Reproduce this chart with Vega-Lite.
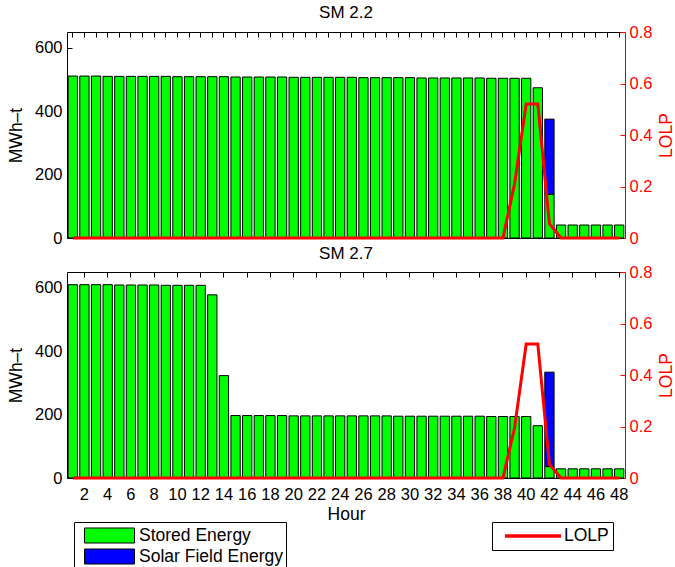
{
"$schema": "https://vega.github.io/schema/vega-lite/v6.json",
"padding": {"left": 7, "top": 4, "right": 0, "bottom": 0},
"config": {
  "font": "Liberation Sans",
  "view": {"stroke": null},
  "axis": {"grid": false, "labelFontSize": 16.5, "titleFontSize": 17.5, "titleFontWeight": "normal", "labelColor": "black", "titleColor": "black", "domainColor": "black", "tickColor": "black", "labelFont": "Liberation Sans", "titleFont": "Liberation Sans", "domainWidth": 1},
  "title": {"fontSize": 17, "fontWeight": "normal", "font": "Liberation Sans", "frame": "group", "anchor": "middle"},
  "concat": {"spacing": -2}
},
"resolve": {"scale": {"color": "independent", "stroke": "independent"}, "legend": {"color": "independent", "stroke": "independent"}},
"datasets": {
"energy": [
{"panel":"SM 2.2","hour":1,"series":"Stored Energy","value":511},
{"panel":"SM 2.2","hour":2,"series":"Stored Energy","value":511},
{"panel":"SM 2.2","hour":3,"series":"Stored Energy","value":511},
{"panel":"SM 2.2","hour":4,"series":"Stored Energy","value":510},
{"panel":"SM 2.2","hour":5,"series":"Stored Energy","value":510},
{"panel":"SM 2.2","hour":6,"series":"Stored Energy","value":510},
{"panel":"SM 2.2","hour":7,"series":"Stored Energy","value":510},
{"panel":"SM 2.2","hour":8,"series":"Stored Energy","value":510},
{"panel":"SM 2.2","hour":9,"series":"Stored Energy","value":510},
{"panel":"SM 2.2","hour":10,"series":"Stored Energy","value":509},
{"panel":"SM 2.2","hour":11,"series":"Stored Energy","value":509},
{"panel":"SM 2.2","hour":12,"series":"Stored Energy","value":509},
{"panel":"SM 2.2","hour":13,"series":"Stored Energy","value":509},
{"panel":"SM 2.2","hour":14,"series":"Stored Energy","value":509},
{"panel":"SM 2.2","hour":15,"series":"Stored Energy","value":508},
{"panel":"SM 2.2","hour":16,"series":"Stored Energy","value":508},
{"panel":"SM 2.2","hour":17,"series":"Stored Energy","value":508},
{"panel":"SM 2.2","hour":18,"series":"Stored Energy","value":508},
{"panel":"SM 2.2","hour":19,"series":"Stored Energy","value":508},
{"panel":"SM 2.2","hour":20,"series":"Stored Energy","value":507},
{"panel":"SM 2.2","hour":21,"series":"Stored Energy","value":507},
{"panel":"SM 2.2","hour":22,"series":"Stored Energy","value":507},
{"panel":"SM 2.2","hour":23,"series":"Stored Energy","value":507},
{"panel":"SM 2.2","hour":24,"series":"Stored Energy","value":507},
{"panel":"SM 2.2","hour":25,"series":"Stored Energy","value":507},
{"panel":"SM 2.2","hour":26,"series":"Stored Energy","value":506},
{"panel":"SM 2.2","hour":27,"series":"Stored Energy","value":506},
{"panel":"SM 2.2","hour":28,"series":"Stored Energy","value":506},
{"panel":"SM 2.2","hour":29,"series":"Stored Energy","value":506},
{"panel":"SM 2.2","hour":30,"series":"Stored Energy","value":506},
{"panel":"SM 2.2","hour":31,"series":"Stored Energy","value":505},
{"panel":"SM 2.2","hour":32,"series":"Stored Energy","value":505},
{"panel":"SM 2.2","hour":33,"series":"Stored Energy","value":505},
{"panel":"SM 2.2","hour":34,"series":"Stored Energy","value":505},
{"panel":"SM 2.2","hour":35,"series":"Stored Energy","value":505},
{"panel":"SM 2.2","hour":36,"series":"Stored Energy","value":505},
{"panel":"SM 2.2","hour":37,"series":"Stored Energy","value":504},
{"panel":"SM 2.2","hour":38,"series":"Stored Energy","value":504},
{"panel":"SM 2.2","hour":39,"series":"Stored Energy","value":504},
{"panel":"SM 2.2","hour":40,"series":"Stored Energy","value":504},
{"panel":"SM 2.2","hour":41,"series":"Stored Energy","value":474},
{"panel":"SM 2.2","hour":42,"series":"Stored Energy","value":138},
{"panel":"SM 2.2","hour":42,"series":"Solar Field Energy","value":237},
{"panel":"SM 2.2","hour":43,"series":"Stored Energy","value":41},
{"panel":"SM 2.2","hour":44,"series":"Stored Energy","value":41},
{"panel":"SM 2.2","hour":45,"series":"Stored Energy","value":41},
{"panel":"SM 2.2","hour":46,"series":"Stored Energy","value":41},
{"panel":"SM 2.2","hour":47,"series":"Stored Energy","value":41},
{"panel":"SM 2.2","hour":48,"series":"Stored Energy","value":41},
{"panel":"SM 2.7","hour":1,"series":"Stored Energy","value":610},
{"panel":"SM 2.7","hour":2,"series":"Stored Energy","value":610},
{"panel":"SM 2.7","hour":3,"series":"Stored Energy","value":610},
{"panel":"SM 2.7","hour":4,"series":"Stored Energy","value":610},
{"panel":"SM 2.7","hour":5,"series":"Stored Energy","value":609},
{"panel":"SM 2.7","hour":6,"series":"Stored Energy","value":609},
{"panel":"SM 2.7","hour":7,"series":"Stored Energy","value":609},
{"panel":"SM 2.7","hour":8,"series":"Stored Energy","value":609},
{"panel":"SM 2.7","hour":9,"series":"Stored Energy","value":608},
{"panel":"SM 2.7","hour":10,"series":"Stored Energy","value":608},
{"panel":"SM 2.7","hour":11,"series":"Stored Energy","value":608},
{"panel":"SM 2.7","hour":12,"series":"Stored Energy","value":608},
{"panel":"SM 2.7","hour":13,"series":"Stored Energy","value":578},
{"panel":"SM 2.7","hour":14,"series":"Stored Energy","value":323},
{"panel":"SM 2.7","hour":15,"series":"Stored Energy","value":197},
{"panel":"SM 2.7","hour":16,"series":"Stored Energy","value":197},
{"panel":"SM 2.7","hour":17,"series":"Stored Energy","value":197},
{"panel":"SM 2.7","hour":18,"series":"Stored Energy","value":197},
{"panel":"SM 2.7","hour":19,"series":"Stored Energy","value":197},
{"panel":"SM 2.7","hour":20,"series":"Stored Energy","value":196},
{"panel":"SM 2.7","hour":21,"series":"Stored Energy","value":196},
{"panel":"SM 2.7","hour":22,"series":"Stored Energy","value":196},
{"panel":"SM 2.7","hour":23,"series":"Stored Energy","value":196},
{"panel":"SM 2.7","hour":24,"series":"Stored Energy","value":196},
{"panel":"SM 2.7","hour":25,"series":"Stored Energy","value":196},
{"panel":"SM 2.7","hour":26,"series":"Stored Energy","value":196},
{"panel":"SM 2.7","hour":27,"series":"Stored Energy","value":196},
{"panel":"SM 2.7","hour":28,"series":"Stored Energy","value":196},
{"panel":"SM 2.7","hour":29,"series":"Stored Energy","value":195},
{"panel":"SM 2.7","hour":30,"series":"Stored Energy","value":195},
{"panel":"SM 2.7","hour":31,"series":"Stored Energy","value":195},
{"panel":"SM 2.7","hour":32,"series":"Stored Energy","value":195},
{"panel":"SM 2.7","hour":33,"series":"Stored Energy","value":195},
{"panel":"SM 2.7","hour":34,"series":"Stored Energy","value":195},
{"panel":"SM 2.7","hour":35,"series":"Stored Energy","value":195},
{"panel":"SM 2.7","hour":36,"series":"Stored Energy","value":195},
{"panel":"SM 2.7","hour":37,"series":"Stored Energy","value":194},
{"panel":"SM 2.7","hour":38,"series":"Stored Energy","value":194},
{"panel":"SM 2.7","hour":39,"series":"Stored Energy","value":194},
{"panel":"SM 2.7","hour":40,"series":"Stored Energy","value":194},
{"panel":"SM 2.7","hour":41,"series":"Stored Energy","value":165},
{"panel":"SM 2.7","hour":42,"series":"Stored Energy","value":36},
{"panel":"SM 2.7","hour":42,"series":"Solar Field Energy","value":298},
{"panel":"SM 2.7","hour":43,"series":"Stored Energy","value":29},
{"panel":"SM 2.7","hour":44,"series":"Stored Energy","value":29},
{"panel":"SM 2.7","hour":45,"series":"Stored Energy","value":29},
{"panel":"SM 2.7","hour":46,"series":"Stored Energy","value":29},
{"panel":"SM 2.7","hour":47,"series":"Stored Energy","value":29},
{"panel":"SM 2.7","hour":48,"series":"Stored Energy","value":29}
],
"lolp": [
{"panel":"SM 2.2","hour":1,"series":"LOLP","lolp":0},
{"panel":"SM 2.2","hour":2,"series":"LOLP","lolp":0},
{"panel":"SM 2.2","hour":3,"series":"LOLP","lolp":0},
{"panel":"SM 2.2","hour":4,"series":"LOLP","lolp":0},
{"panel":"SM 2.2","hour":5,"series":"LOLP","lolp":0},
{"panel":"SM 2.2","hour":6,"series":"LOLP","lolp":0},
{"panel":"SM 2.2","hour":7,"series":"LOLP","lolp":0},
{"panel":"SM 2.2","hour":8,"series":"LOLP","lolp":0},
{"panel":"SM 2.2","hour":9,"series":"LOLP","lolp":0},
{"panel":"SM 2.2","hour":10,"series":"LOLP","lolp":0},
{"panel":"SM 2.2","hour":11,"series":"LOLP","lolp":0},
{"panel":"SM 2.2","hour":12,"series":"LOLP","lolp":0},
{"panel":"SM 2.2","hour":13,"series":"LOLP","lolp":0},
{"panel":"SM 2.2","hour":14,"series":"LOLP","lolp":0},
{"panel":"SM 2.2","hour":15,"series":"LOLP","lolp":0},
{"panel":"SM 2.2","hour":16,"series":"LOLP","lolp":0},
{"panel":"SM 2.2","hour":17,"series":"LOLP","lolp":0},
{"panel":"SM 2.2","hour":18,"series":"LOLP","lolp":0},
{"panel":"SM 2.2","hour":19,"series":"LOLP","lolp":0},
{"panel":"SM 2.2","hour":20,"series":"LOLP","lolp":0},
{"panel":"SM 2.2","hour":21,"series":"LOLP","lolp":0},
{"panel":"SM 2.2","hour":22,"series":"LOLP","lolp":0},
{"panel":"SM 2.2","hour":23,"series":"LOLP","lolp":0},
{"panel":"SM 2.2","hour":24,"series":"LOLP","lolp":0},
{"panel":"SM 2.2","hour":25,"series":"LOLP","lolp":0},
{"panel":"SM 2.2","hour":26,"series":"LOLP","lolp":0},
{"panel":"SM 2.2","hour":27,"series":"LOLP","lolp":0},
{"panel":"SM 2.2","hour":28,"series":"LOLP","lolp":0},
{"panel":"SM 2.2","hour":29,"series":"LOLP","lolp":0},
{"panel":"SM 2.2","hour":30,"series":"LOLP","lolp":0},
{"panel":"SM 2.2","hour":31,"series":"LOLP","lolp":0},
{"panel":"SM 2.2","hour":32,"series":"LOLP","lolp":0},
{"panel":"SM 2.2","hour":33,"series":"LOLP","lolp":0},
{"panel":"SM 2.2","hour":34,"series":"LOLP","lolp":0},
{"panel":"SM 2.2","hour":35,"series":"LOLP","lolp":0},
{"panel":"SM 2.2","hour":36,"series":"LOLP","lolp":0},
{"panel":"SM 2.2","hour":37,"series":"LOLP","lolp":0},
{"panel":"SM 2.2","hour":38,"series":"LOLP","lolp":0},
{"panel":"SM 2.2","hour":39,"series":"LOLP","lolp":0.21},
{"panel":"SM 2.2","hour":40,"series":"LOLP","lolp":0.52},
{"panel":"SM 2.2","hour":41,"series":"LOLP","lolp":0.52},
{"panel":"SM 2.2","hour":42,"series":"LOLP","lolp":0.055},
{"panel":"SM 2.2","hour":43,"series":"LOLP","lolp":0},
{"panel":"SM 2.2","hour":44,"series":"LOLP","lolp":0},
{"panel":"SM 2.2","hour":45,"series":"LOLP","lolp":0},
{"panel":"SM 2.2","hour":46,"series":"LOLP","lolp":0},
{"panel":"SM 2.2","hour":47,"series":"LOLP","lolp":0},
{"panel":"SM 2.2","hour":48,"series":"LOLP","lolp":0},
{"panel":"SM 2.7","hour":1,"series":"LOLP","lolp":0},
{"panel":"SM 2.7","hour":2,"series":"LOLP","lolp":0},
{"panel":"SM 2.7","hour":3,"series":"LOLP","lolp":0},
{"panel":"SM 2.7","hour":4,"series":"LOLP","lolp":0},
{"panel":"SM 2.7","hour":5,"series":"LOLP","lolp":0},
{"panel":"SM 2.7","hour":6,"series":"LOLP","lolp":0},
{"panel":"SM 2.7","hour":7,"series":"LOLP","lolp":0},
{"panel":"SM 2.7","hour":8,"series":"LOLP","lolp":0},
{"panel":"SM 2.7","hour":9,"series":"LOLP","lolp":0},
{"panel":"SM 2.7","hour":10,"series":"LOLP","lolp":0},
{"panel":"SM 2.7","hour":11,"series":"LOLP","lolp":0},
{"panel":"SM 2.7","hour":12,"series":"LOLP","lolp":0},
{"panel":"SM 2.7","hour":13,"series":"LOLP","lolp":0},
{"panel":"SM 2.7","hour":14,"series":"LOLP","lolp":0},
{"panel":"SM 2.7","hour":15,"series":"LOLP","lolp":0},
{"panel":"SM 2.7","hour":16,"series":"LOLP","lolp":0},
{"panel":"SM 2.7","hour":17,"series":"LOLP","lolp":0},
{"panel":"SM 2.7","hour":18,"series":"LOLP","lolp":0},
{"panel":"SM 2.7","hour":19,"series":"LOLP","lolp":0},
{"panel":"SM 2.7","hour":20,"series":"LOLP","lolp":0},
{"panel":"SM 2.7","hour":21,"series":"LOLP","lolp":0},
{"panel":"SM 2.7","hour":22,"series":"LOLP","lolp":0},
{"panel":"SM 2.7","hour":23,"series":"LOLP","lolp":0},
{"panel":"SM 2.7","hour":24,"series":"LOLP","lolp":0},
{"panel":"SM 2.7","hour":25,"series":"LOLP","lolp":0},
{"panel":"SM 2.7","hour":26,"series":"LOLP","lolp":0},
{"panel":"SM 2.7","hour":27,"series":"LOLP","lolp":0},
{"panel":"SM 2.7","hour":28,"series":"LOLP","lolp":0},
{"panel":"SM 2.7","hour":29,"series":"LOLP","lolp":0},
{"panel":"SM 2.7","hour":30,"series":"LOLP","lolp":0},
{"panel":"SM 2.7","hour":31,"series":"LOLP","lolp":0},
{"panel":"SM 2.7","hour":32,"series":"LOLP","lolp":0},
{"panel":"SM 2.7","hour":33,"series":"LOLP","lolp":0},
{"panel":"SM 2.7","hour":34,"series":"LOLP","lolp":0},
{"panel":"SM 2.7","hour":35,"series":"LOLP","lolp":0},
{"panel":"SM 2.7","hour":36,"series":"LOLP","lolp":0},
{"panel":"SM 2.7","hour":37,"series":"LOLP","lolp":0},
{"panel":"SM 2.7","hour":38,"series":"LOLP","lolp":0},
{"panel":"SM 2.7","hour":39,"series":"LOLP","lolp":0.195},
{"panel":"SM 2.7","hour":40,"series":"LOLP","lolp":0.52},
{"panel":"SM 2.7","hour":41,"series":"LOLP","lolp":0.52},
{"panel":"SM 2.7","hour":42,"series":"LOLP","lolp":0.053},
{"panel":"SM 2.7","hour":43,"series":"LOLP","lolp":0},
{"panel":"SM 2.7","hour":44,"series":"LOLP","lolp":0},
{"panel":"SM 2.7","hour":45,"series":"LOLP","lolp":0},
{"panel":"SM 2.7","hour":46,"series":"LOLP","lolp":0},
{"panel":"SM 2.7","hour":47,"series":"LOLP","lolp":0},
{"panel":"SM 2.7","hour":48,"series":"LOLP","lolp":0}
]
},
"vconcat": [
{
  "title": {"text": "SM 2.2", "offset": 2},
  "width": 558, "height": 206,
  "layer": [
    {
      "data": {"name": "energy"},
      "transform": [{"filter": "datum.panel == 'SM 2.2'"}],
      "mark": {"type": "bar", "stroke": "black", "strokeWidth": 1},
      "encoding": {
        "x": {"field": "hour", "type": "ordinal", "scale": {"paddingInner": 0.2, "paddingOuter": 0.1},
              "axis": {"orient": "bottom", "labels": false, "ticks": false, "title": null}},
        "y": {"field": "value", "type": "quantitative", "stack": "zero", "scale": {"domain": [0, 650], "nice": false},
              "axis": {"orient": "left", "values": [0, 200, 400, 600], "tickSize": -5, "labelPadding": 10, "title": "MWh–t", "titlePadding": 9}},
        "color": {"field": "series", "type": "nominal", "scale": {"domain": ["Stored Energy", "Solar Field Energy"], "range": ["#00ff00", "#0000ff"]}, "legend": null},
        "order": {"field": "series", "sort": "descending"}
      }
    },
    {
      "data": {"name": "lolp"},
      "transform": [{"filter": "datum.panel == 'SM 2.2'"}],
      "mark": {"type": "line", "strokeWidth": 3},
      "encoding": {
        "x": {"field": "hour", "type": "ordinal",
              "axis": {"orient": "top", "labels": false, "tickSize": -5, "title": null,
                       "values": [1,2,3,4,5,6,7,8,9,10,11,12,13,14,15,16,17,18,19,20,21,22,23,24,25,26,27,28,29,30,31,32,33,34,35,36,37,38,39,40,41,42,43,44,45,46,47,48]}},
        "y": {"field": "lolp", "type": "quantitative", "scale": {"domain": [0, 0.8], "nice": false},
              "axis": {"orient": "right", "values": [0, 0.2, 0.4, 0.6, 0.8], "format": ".1~f", "tickSize": -5, "labelPadding": 9,
                       "labelColor": "#ff0000", "titleColor": "#ff0000", "domainColor": "#dd0000", "tickColor": "#ff0000",
                       "title": "LOLP", "titleAngle": 270, "titlePadding": 24}},
        "stroke": {"field": "series", "type": "nominal", "scale": {"domain": ["LOLP"], "range": ["#ff0000"]}, "legend": null}
      }
    }
  ],
  "resolve": {"scale": {"y": "independent"}, "axis": {"x": "independent"}}
},
{
  "title": {"text": "SM 2.7", "offset": 1},
  "width": 558, "height": 206,
  "layer": [
    {
      "data": {"name": "energy"},
      "transform": [{"filter": "datum.panel == 'SM 2.7'"}],
      "mark": {"type": "bar", "stroke": "black", "strokeWidth": 1},
      "encoding": {
        "x": {"field": "hour", "type": "ordinal", "scale": {"paddingInner": 0.2, "paddingOuter": 0.1},
              "axis": {"orient": "bottom", "ticks": false, "labelPadding": 8, "labelAngle": 0, "labelOverlap": false, "labelFlush": false,
                       "values": [2,4,6,8,10,12,14,16,18,20,22,24,26,28,30,32,34,36,38,40,42,44,46,48],
                       "title": "Hour", "titlePadding": 3}},
        "y": {"field": "value", "type": "quantitative", "stack": "zero", "scale": {"domain": [0, 650], "nice": false},
              "axis": {"orient": "left", "values": [0, 200, 400, 600], "tickSize": -5, "labelPadding": 10, "title": "MWh–t", "titlePadding": 9}},
        "color": {"field": "series", "type": "nominal", "scale": {"domain": ["Stored Energy", "Solar Field Energy"], "range": ["#00ff00", "#0000ff"]},
                  "legend": {"orient": "none", "legendX": 7, "legendY": 250, "title": null,
                             "symbolType": "M-1,-0.3H1V0.3H-1Z", "symbolSize": 2500, "symbolStrokeColor": "black", "symbolStrokeWidth": 1, "symbolOpacity": 1,
                             "clipHeight": 21, "padding": 3, "symbolOffset": 7, "labelOffset": 4, "labelFontSize": 17.5, "labelLimit": 0,
                             "rowPadding": 0, "strokeColor": "black", "fillColor": "white"}},
        "order": {"field": "series", "sort": "descending"}
      }
    },
    {
      "data": {"name": "lolp"},
      "transform": [{"filter": "datum.panel == 'SM 2.7'"}],
      "mark": {"type": "line", "strokeWidth": 3},
      "encoding": {
        "x": {"field": "hour", "type": "ordinal",
              "axis": {"orient": "top", "labels": false, "tickSize": -5, "title": null,
                       "values": [2,4,6,8,10,12,14,16,18,20,22,24,26,28,30,32,34,36,38,40,42,44,46,48]}},
        "y": {"field": "lolp", "type": "quantitative", "scale": {"domain": [0, 0.8], "nice": false},
              "axis": {"orient": "right", "values": [0, 0.2, 0.4, 0.6, 0.8], "format": ".1~f", "tickSize": -5, "labelPadding": 9,
                       "labelColor": "#ff0000", "titleColor": "#ff0000", "domainColor": "#dd0000", "tickColor": "#ff0000",
                       "title": "LOLP", "titleAngle": 270, "titlePadding": 24}},
        "stroke": {"field": "series", "type": "nominal", "scale": {"domain": ["LOLP"], "range": ["#ff0000"]},
                   "legend": {"orient": "none", "legendX": 425, "legendY": 250, "title": null,
                              "symbolType": "stroke", "symbolSize": 3136, "symbolStrokeWidth": 3.5,
                              "clipHeight": 20, "padding": 4, "symbolOffset": 7, "labelOffset": 1, "labelFontSize": 17.5, "labelLimit": 0,
                              "strokeColor": "black", "fillColor": "white"}}
      }
    }
  ],
  "resolve": {"scale": {"y": "independent"}, "axis": {"x": "independent"}}
}
]
}
